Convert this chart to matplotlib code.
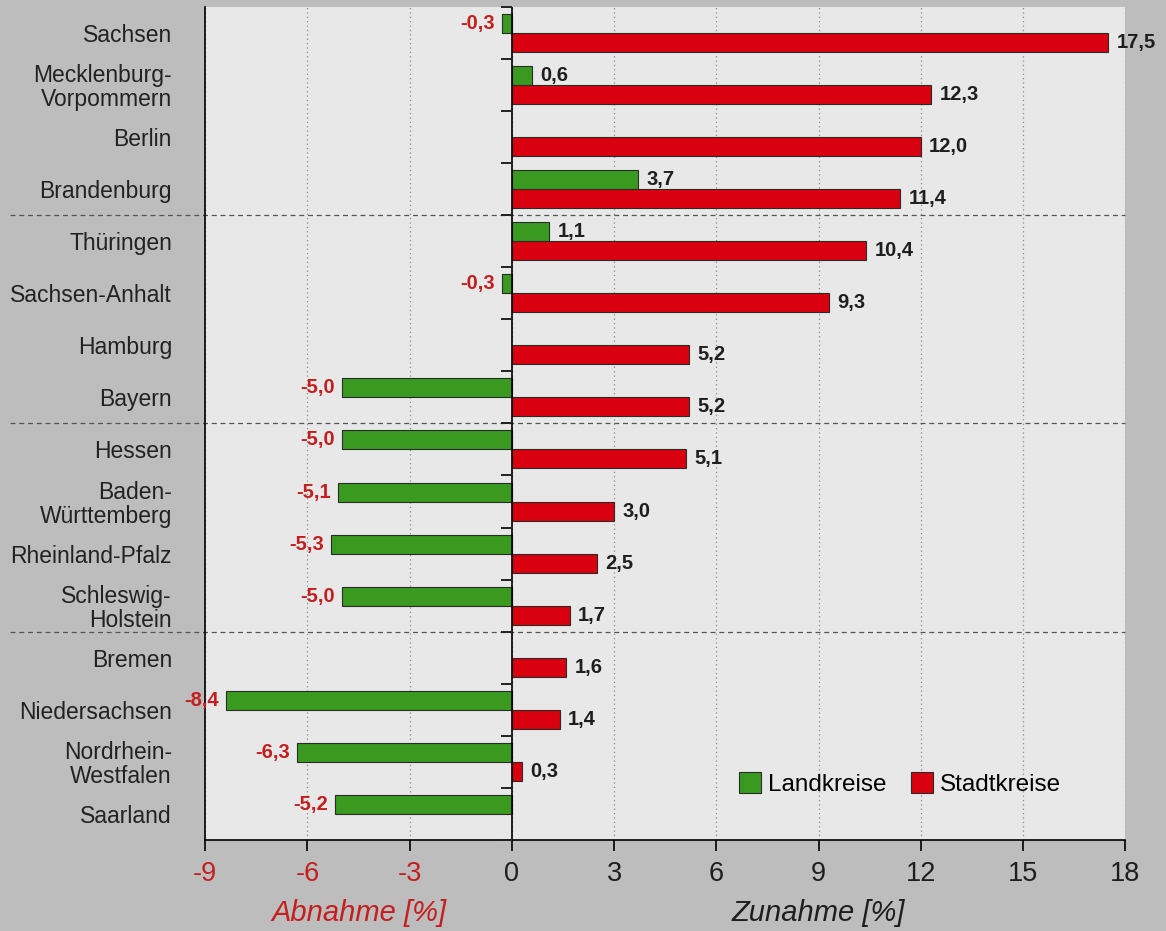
import numpy as np
import matplotlib.pyplot as plt

plt.rcParams['font.family'] = ['Liberation Sans', 'DejaVu Sans']
plt.rcParams['axes.unicode_minus'] = False

# ---------- data ----------
states = [
    "Sachsen", "Mecklenburg-\nVorpommern", "Berlin", "Brandenburg",
    "Thüringen", "Sachsen-Anhalt", "Hamburg", "Bayern",
    "Hessen", "Baden-\nWürttemberg", "Rheinland-Pfalz", "Schleswig-\nHolstein",
    "Bremen", "Niedersachsen", "Nordrhein-\nWestfalen", "Saarland",
]
landkreise = [-0.3, 0.6, np.nan, 3.7, 1.1, -0.3, np.nan, -5.0,
              -5.0, -5.1, -5.3, -5.0, np.nan, -8.4, -6.3, -5.2]
stadtkreise = [17.5, 12.3, 12.0, 11.4, 10.4, 9.3, 5.2, 5.2,
               5.1, 3.0, 2.5, 1.7, 1.6, 1.4, 0.3, np.nan]
xticks = [-9, -6, -3, 0, 3, 6, 9, 12, 15, 18]
group_size = 4

GREEN = "#3a9a1f"
RED = "#d9000f"
NEG_TXT = "#c41e1e"
DARK = "#1e1e1e"

fig = plt.figure(figsize=(11.66, 9.31), dpi=100, facecolor="#bdbdbd")
ax = fig.add_axes([0.176, 0.0977, 0.789, 0.895], facecolor="#e8e8e8")

y = np.arange(len(states))
h = 0.365
off = 0.183

ax.barh(y - off, landkreise, height=h, color=GREEN, edgecolor="#2a2a2a",
        linewidth=0.8, label="Landkreise", zorder=3)
ax.barh(y + off, stadtkreise, height=h, color=RED, edgecolor="#2a2a2a",
        linewidth=0.8, label="Stadtkreise", zorder=3)

def fmt(v):
    return f"{v:.1f}".replace(".", ",")

for yy, vals in ((y - off, landkreise), (y + off, stadtkreise)):
    for yi, v in zip(yy, vals):
        if np.isnan(v):
            continue
        if v >= 0:
            ax.annotate(fmt(v), (v, yi), xytext=(6, 0), textcoords="offset points",
                        ha="left", va="center", fontsize=14.5, fontweight="bold",
                        color=DARK, zorder=4)
        else:
            ax.annotate(fmt(v), (v, yi), xytext=(-5, 0), textcoords="offset points",
                        ha="right", va="center", fontsize=14.5, fontweight="bold",
                        color=NEG_TXT, zorder=4)

ax.set_xlim(xticks[0], xticks[-1])
ax.set_ylim(len(states) - 0.5, -0.5)

# grid + zero line with category ticks
ax.set_xticks(xticks)
ax.grid(axis="x", linestyle=(0, (1, 2.5)), color="#8a8a8a", linewidth=0.9, zorder=1)
ax.axvline(0, color="black", linewidth=1.2, zorder=5)
bounds = np.arange(len(states) + 1) - 0.5
ax.plot(np.zeros_like(bounds), bounds, linestyle="none", marker=0,
        markersize=8, markeredgewidth=1.4, color="#222", clip_on=False, zorder=5)

# group separators, extend into label area
for b in bounds[group_size:-1:group_size]:
    ax.axhline(b, xmin=-0.212, xmax=1, color="#555", linestyle=(0, (4, 3)),
               linewidth=0.9, clip_on=False, zorder=2)

ax.set_yticks(y)
ax.set_yticklabels(states, fontsize=16.5, color="#222", linespacing=1.05)
ax.tick_params(axis="y", length=0, pad=24)
ax.tick_params(axis="x", direction="out", length=8, width=1.2, pad=7,
               labelsize=19.5)
for lbl, t in zip(ax.get_xticklabels(), xticks):
    lbl.set_color(NEG_TXT if t < 0 else DARK)

for s in ("top", "right"):
    ax.spines[s].set_visible(False)
for s in ("left", "bottom"):
    ax.spines[s].set_linewidth(1.2)

trans = ax.get_xaxis_transform()
ax.text(-4.5, -0.087, "Abnahme [%]", transform=trans, ha="center", va="center",
        fontsize=21, style="italic", color=NEG_TXT)
ax.text(9, -0.087, "Zunahme [%]", transform=trans, ha="center", va="center",
        fontsize=21, style="italic", color=DARK)

ax.legend(loc="center", bbox_to_anchor=(0.755, 0.067), ncol=2, frameon=False,
          fontsize=17.5, handlelength=0.9, handleheight=0.9, handletextpad=0.3,
          columnspacing=1.0)

fig.savefig("out.png", dpi=100, facecolor=fig.get_facecolor())
